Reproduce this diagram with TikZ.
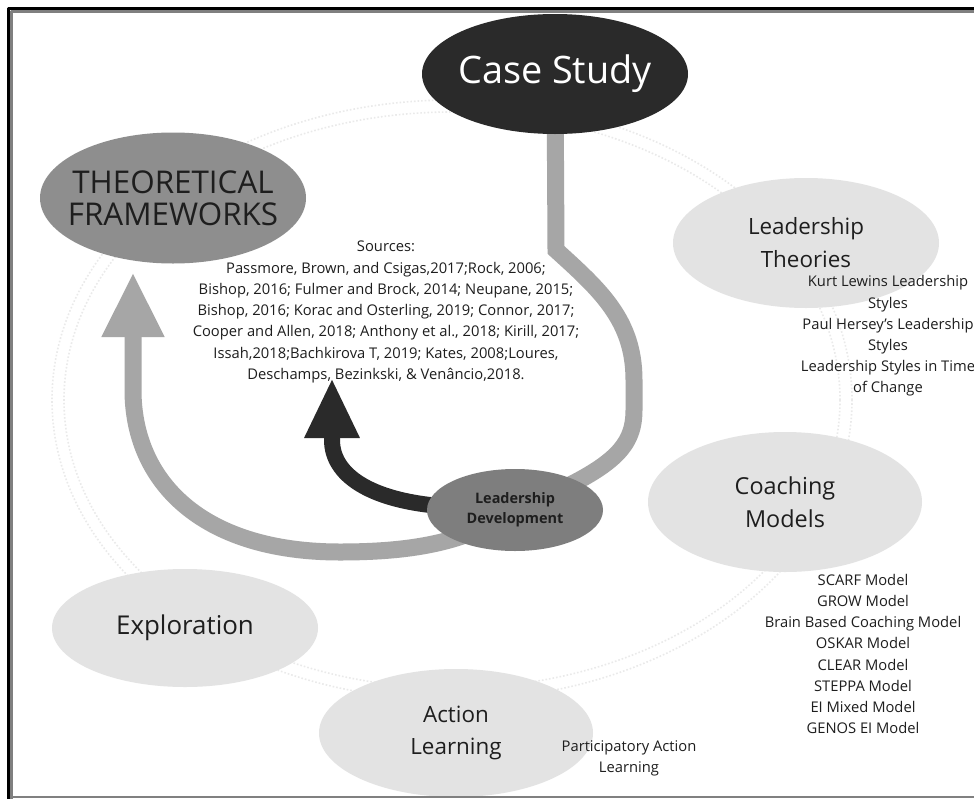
\documentclass[tikz,border=0pt]{standalone}
\usepackage{fontspec}
\setmainfont{Open Sans}
\usetikzlibrary{shapes,backgrounds,arrows.meta}

\definecolor{darkbub}{HTML}{2A2A2A}
\definecolor{midbub}{HTML}{8E8E8E}
\definecolor{devbub}{HTML}{7E7E7E}
\definecolor{lightbub}{HTML}{E3E3E3}
\definecolor{flowgray}{HTML}{A6A6A6}
\definecolor{ringgray}{HTML}{EAEAEA}
\definecolor{inkgray}{HTML}{1E1E1E}

\begin{document}
\begin{tikzpicture}[join=round]
 \tikzstyle{bubble}=[ellipse, inner sep=0pt, align=center, text=inkgray]
 \tikzstyle{light bubble}=[bubble, fill=lightbub, font=\fontsize{22.5}{33}\selectfont]
 \tikzstyle{list}=[align=center, text=inkgray, font=\fontsize{14.8}{21.3}\selectfont]
 \useasboundingbox (0bp,0bp) rectangle (974bp,-799bp);

 \node (CS) at (555bp,-74bp) [bubble, fill=darkbub, text=white, inner xsep=-5bp, minimum width=266bp, minimum height=120bp, font=\fontsize{38}{40}\selectfont] {Case Study};
 \node (TF) at (173bp,-198bp) [bubble, fill=midbub, inner xsep=-13bp, minimum width=266bp, minimum height=131bp, font=\fontsize{31.5}{32}\selectfont] {THEORETICAL\\FRAMEWORKS};
 \node (LT) at (806bp,-243bp) [light bubble, minimum width=266bp, minimum height=130bp] {Leadership\\Theories};
 \node (CM) at (785bp,-502bp) [light bubble, minimum width=274bp, minimum height=140bp, font=\fontsize{23.5}{33}\selectfont] {Coaching\\Models};
 \node (EX) at (185bp,-628bp) [light bubble, minimum width=266bp, minimum height=118bp, font=\fontsize{26}{30}\selectfont] {Exploration};
 \node (AL) at (456bp,-733bp) [light bubble, minimum width=274bp, minimum height=128bp] {Action\\Learning};
 \node (LD) at (515bp,-510bp) [bubble, fill=devbub, minimum width=176bp, minimum height=82bp, font=\fontsize{14.5}{20}\selectfont\bfseries] {Leadership\\Development};

 \node (sources) at (386bp,-312bp) [list] {Sources:\\
  Passmore, Brown, and Csigas,2017;Rock, 2006;\\
  Bishop, 2016; Fulmer and Brock, 2014; Neupane, 2015;\\
  Bishop, 2016; Korac and Osterling, 2019; Connor, 2017;\\
  Cooper and Allen, 2018; Anthony et al., 2018; Kirill, 2017;\\
  Issah,2018;Bachkirova T, 2019; Kates, 2008;Loures,\\
  Deschamps, Bezinkski, \& Venâncio,2018.};
 \node (LTlist) at (888bp,-336bp) [list] {Kurt Lewins Leadership\\ Styles\\ Paul Hersey's Leadership\\ Styles\\ Leadership Styles in Time\\ of Change};
 \node (CMlist) at (863bp,-654bp) [list] {SCARF Model\\ GROW Model\\ Brain Based Coaching Model\\ OSKAR Model\\ CLEAR Model\\ STEPPA Model\\ EI Mixed Model\\ GENOS EI Model};
 \node (ALlist) at (629bp,-758bp) [list] {Participatory Action\\ Learning};

 \coordinate (tftip) at (133bp,-272bp);
 \coordinate (srctip) at (332bp,-378bp);

 \begin{pgfonlayer}{background}
  \fill[white] (0bp,0bp) rectangle (974bp,-799bp);
  % faint ring behind everything
  \draw[ringgray, dotted, line width=1.6bp] (452bp,-400bp) ellipse [x radius=400bp, y radius=300bp];
  \draw[ringgray, dotted, line width=1.6bp] (452bp,-400bp) ellipse [x radius=388bp, y radius=288bp];
  \draw[flowgray, line width=17bp, -{Triangle[length=65bp,width=58bp]}] (CS.center) -- (556bp,-250bp)
     .. controls (600bp,-290bp) and (634bp,-320bp) .. (634bp,-380bp) -- (634bp,-410bp)
     .. controls (634bp,-450bp) and (610bp,-470bp) .. (LD.center)
     .. controls (470bp,-540bp) and (420bp,-552bp) .. (340bp,-552bp)
     .. controls (200bp,-552bp) and (133bp,-480bp) .. (133bp,-390bp) -- (tftip);
  \draw[darkbub, line width=16bp, -{Triangle[length=60bp,width=51bp]}] (LD.center) -- (440bp,-506bp)
     .. controls (370bp,-500bp) and (332bp,-475bp) .. (332bp,-440bp) -- (srctip);
 \end{pgfonlayer}

 % frame
 \draw[black, line width=3bp] (8bp,-799bp) -- (8bp,-8bp) -- (974bp,-8bp);
 \draw[gray, line width=3bp] (11bp,-799bp) -- (11bp,-11bp) -- (974bp,-11bp);
 \draw[gray, line width=2.5bp] (11bp,-797bp) -- (974bp,-797bp);
\end{tikzpicture}
\end{document}
